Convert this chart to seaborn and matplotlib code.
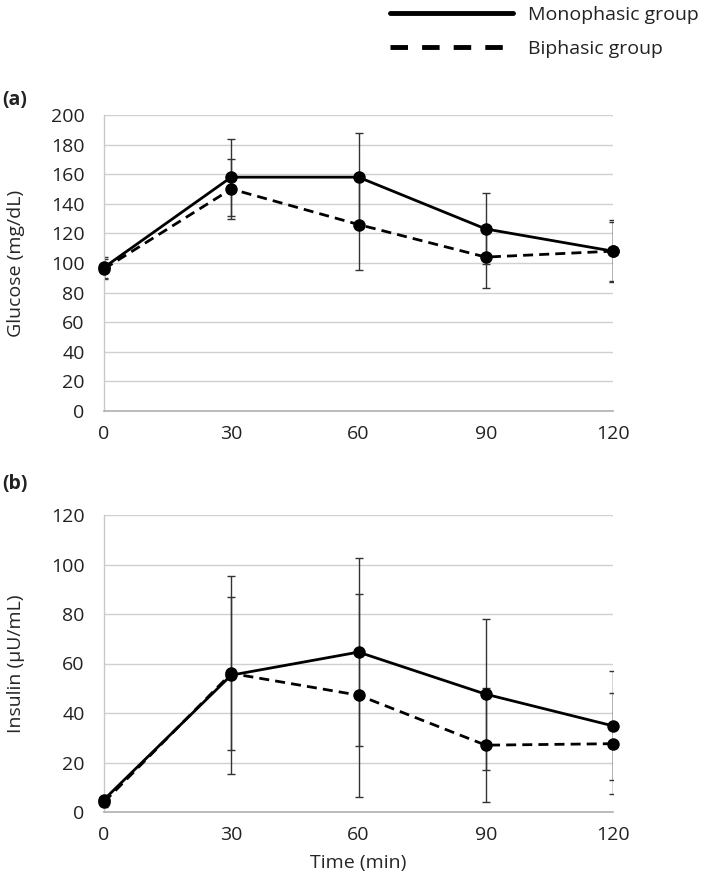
import matplotlib
matplotlib.use('Agg')
import matplotlib.pyplot as plt
from matplotlib.lines import Line2D
import pandas as pd
import seaborn as sns

# values (mean and SD)
time = [0, 30, 60, 90, 120]
groups = ['Monophasic group', 'Biphasic group']

glu_mono = [97, 158, 158, 123, 108]
glu_mono_sd = [7, 26, 30, 24, 21]
glu_bi = [96, 150, 126, 104, 108]
glu_bi_sd = [7, 20, 31, 21, 20]

ins_mono = [5, 55.3, 64.6, 47.6, 34.8]
ins_mono_sd = [2, 40, 38, 30.5, 22]
ins_bi = [4, 56, 47.2, 27, 27.6]
ins_bi_sd = [2, 31, 41, 23, 20.5]

glu_ticks = list(range(0, 201, 20))
ins_ticks = list(range(0, 121, 20))

sns.set_style('white')
plt.rcParams['font.family'] = ['Open Sans', 'DejaVu Sans']
plt.rcParams['font.size'] = 14
plt.rcParams['text.color'] = '#222222'

fig = plt.figure(figsize=(7.09, 8.81), dpi=100)
ax_a = fig.add_axes([104 / 709, 1 - 411 / 881, 509 / 709, 296 / 881])
ax_b = fig.add_axes([104 / 709, 1 - 812 / 881, 509 / 709, 297 / 881])

dash_bi = (3.6, 2.2)


def draw_panel(ax, mono, mono_sd, bi, bi_sd, col, ticks, ylabel):
    df = pd.DataFrame({
        'time': time + time,
        col: mono + bi,
        'group': [groups[0]] * len(time) + [groups[1]] * len(time),
    })
    # error bars first, lines and markers on top
    ax.errorbar(time, mono, yerr=mono_sd, fmt='none', ecolor='#333333',
                elinewidth=1, capsize=2.6, capthick=1, zorder=2)
    ax.errorbar(time, bi, yerr=bi_sd, fmt='none', ecolor='#333333',
                elinewidth=1, capsize=2.6, capthick=1, zorder=2)
    sns.lineplot(data=df, x='time', y=col, style='group', color='black',
                 markers={groups[0]: 'o', groups[1]: 'o'},
                 dashes={groups[0]: '', groups[1]: dash_bi},
                 markersize=9, markeredgewidth=0, linewidth=2,
                 errorbar=None, legend=False, clip_on=False, zorder=3, ax=ax)
    ax.set_xlim(0, 120)
    ax.set_ylim(ticks[0], ticks[-1])
    ax.set_xticks(time)
    ax.set_yticks(ticks)
    ax.yaxis.grid(True, color='#d0d0d0', linewidth=1)
    ax.xaxis.grid(False)
    for s in ['top', 'right']:
        ax.spines[s].set_visible(False)
    ax.spines['left'].set_color('#c8c8c8')
    ax.spines['bottom'].set_color('#b0b0b0')
    ax.spines['left'].set_linewidth(1)
    ax.spines['bottom'].set_linewidth(1.2)
    ax.tick_params(axis='y', length=0, pad=14, labelsize=14, labelcolor='#222222')
    ax.tick_params(axis='x', length=0, pad=10, labelsize=14, labelcolor='#222222')
    ax.set_ylabel(ylabel, fontsize=14)
    ax.yaxis.set_label_coords(-0.155, 0.5)
    ax.set_xlabel('')


draw_panel(ax_a, glu_mono, glu_mono_sd, glu_bi, glu_bi_sd, 'glucose',
           glu_ticks, 'Glucose (mg/dL)')
draw_panel(ax_b, ins_mono, ins_mono_sd, ins_bi, ins_bi_sd, 'insulin',
           ins_ticks, 'Insulin (μU/mL)')
ax_b.set_xlabel('Time (min)', fontsize=14, labelpad=7)

fig.text(0.003, 1 - 100 / 881, '(a)', fontweight='bold', fontsize=14, va='center')
fig.text(0.003, 1 - 484 / 881, '(b)', fontweight='bold', fontsize=14, va='center')

handles = [Line2D([], [], color='black', lw=3.5),
           Line2D([], [], color='black', lw=3.5, dashes=(3.6, 2.9))]
fig.legend(handles, groups, loc='upper left', bbox_to_anchor=(390 / 709, 1 - 6 / 881),
           frameon=False, borderaxespad=0, borderpad=0,
           handlelength=6.3, handletextpad=0.8,
           labelspacing=0.8, fontsize=14)

fig.savefig('out.png', dpi=100)
